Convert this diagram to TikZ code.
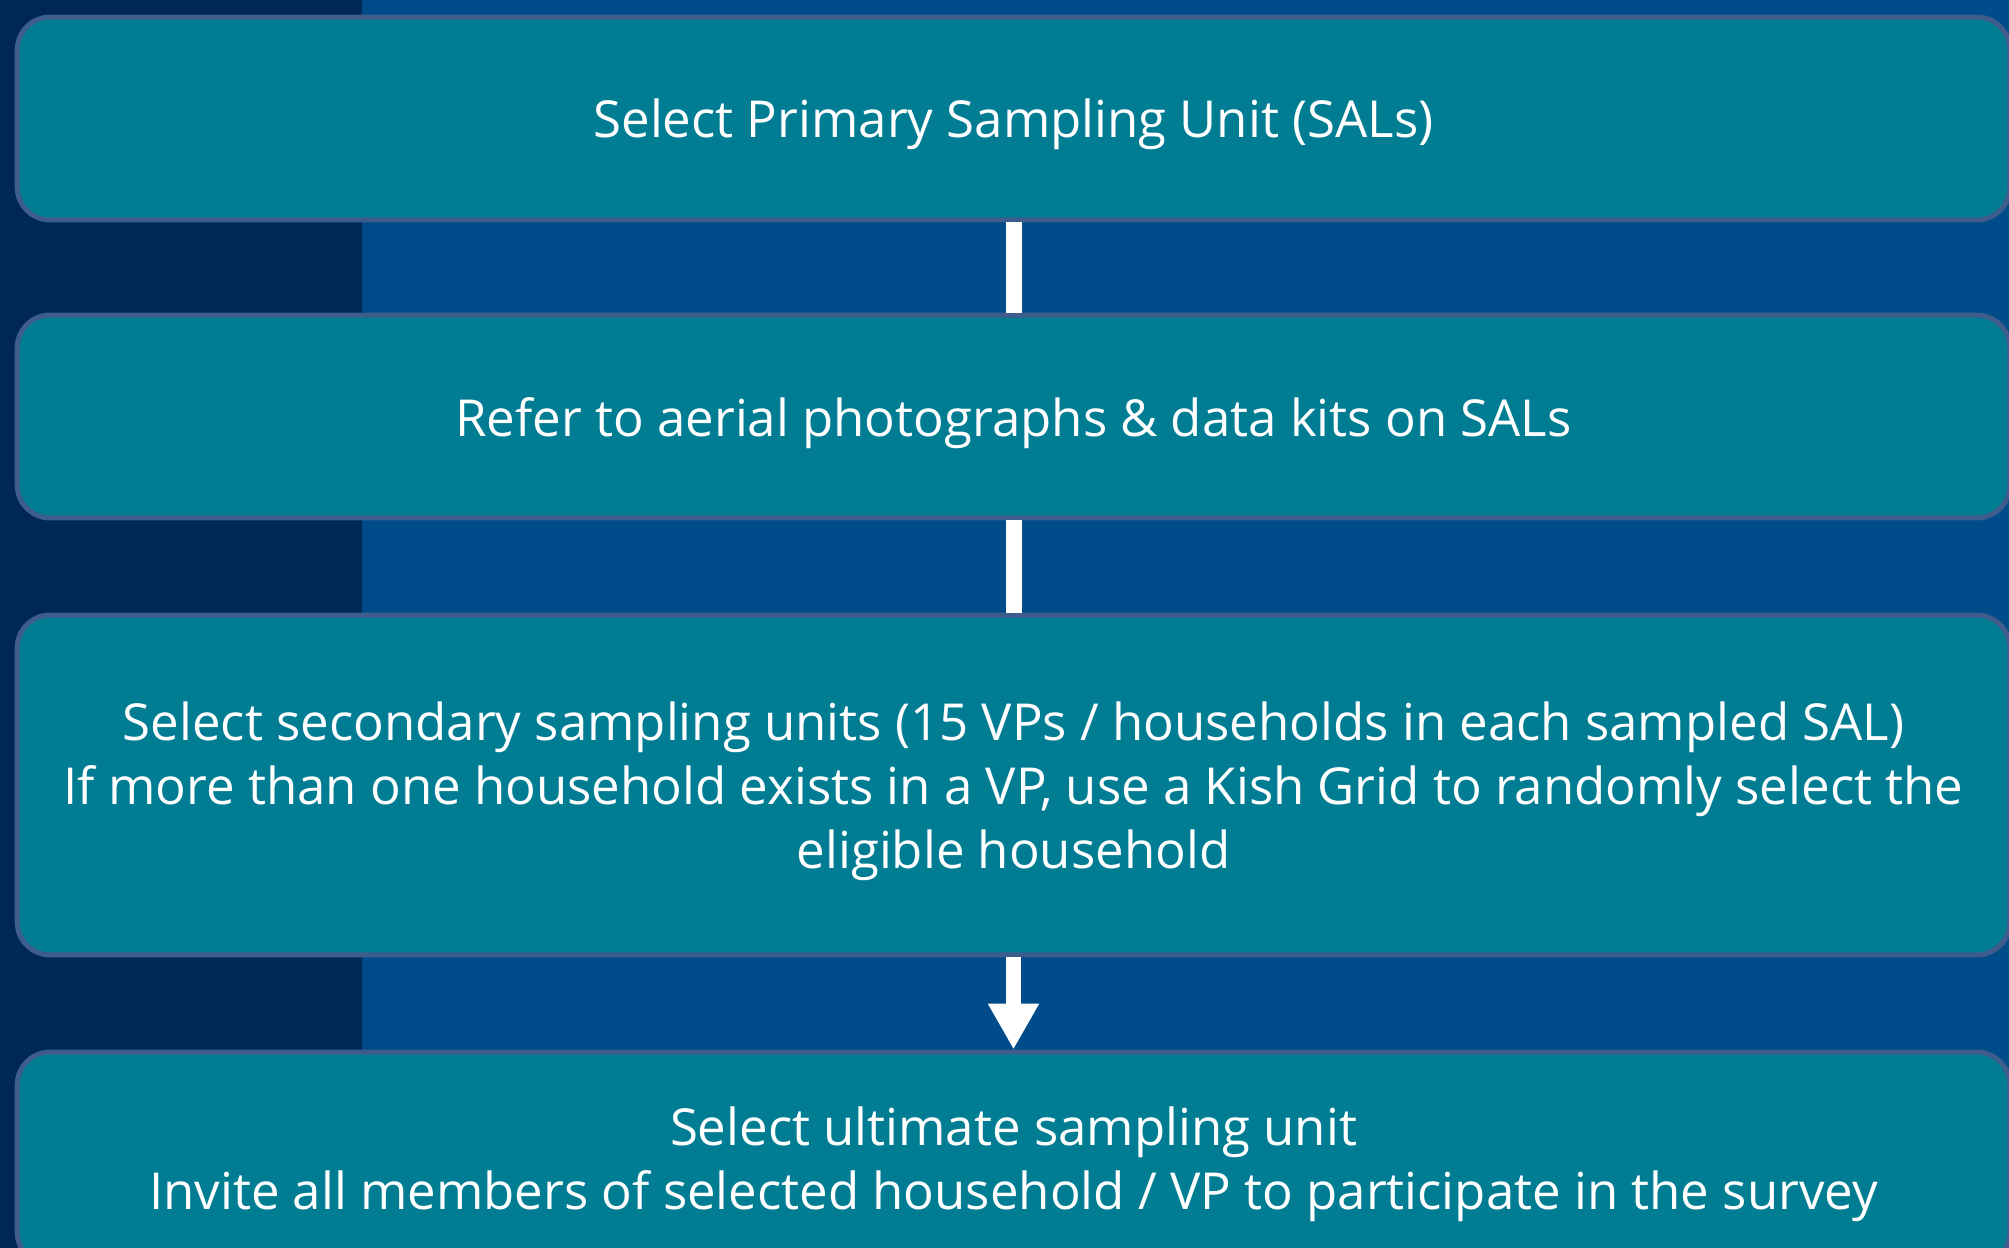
\documentclass[tikz,border=0pt]{standalone}
\usepackage{fontspec}
\setmainfont{Open Sans}
\usepackage{tikz}
\usetikzlibrary{arrows.meta}
\usepackage{xcolor}
\definecolor{bgdark}{RGB}{0,40,86}
\definecolor{bglight}{RGB}{0,76,138}
\definecolor{boxfill}{RGB}{0,125,147}
\definecolor{boxline}{RGB}{62,92,140}

\begin{document}
\begin{tikzpicture}[x=0.02cm, y=-0.02cm,
  stepbox/.style={draw=boxline, line width=0.1cm, fill=boxfill, rounded corners=0.66cm,
    minimum width=39.86cm, inner sep=0pt, text depth=0pt, text=white, align=center,
    font=\fontsize{29}{36.3}\selectfont},
  link/.style={white, line width=0.32cm}]
\useasboundingbox (0,0) rectangle (2009,1248);
\clip (0,0) rectangle (2009,1248);
\fill[bgdark] (0,0) rectangle (362,1248);
\fill[bglight] (362,0) rectangle (2009,1248);
\node[stepbox, minimum height=4.06cm] (psu) at (1013.5,118.5) {Select Primary Sampling Unit (SALs)};
\node[stepbox, minimum height=4.06cm] (aerial) at (1013.5,416.5) {Refer to aerial photographs \& data kits on SALs};
\node[stepbox, minimum height=6.8cm] (ssu) at (1013.5,785) {Select secondary sampling units (15 VPs / households in each sampled SAL)\\If more than one household exists in a VP, use a Kish Grid to randomly select the\\eligible household};
\node[stepbox, minimum height=4.26cm] (usu) at (1013.5,1158.5) {Select ultimate sampling unit\\Invite all members of selected household / VP to participate in the survey};
\draw[link] (psu.south) -- (aerial.north);
\draw[link] (aerial.south) -- (ssu.north);
\draw[link, line width=0.3cm, -{Triangle[width=0.96cm, length=0.92cm]}] (ssu.south) -- (usu.north);
\end{tikzpicture}
\end{document}
